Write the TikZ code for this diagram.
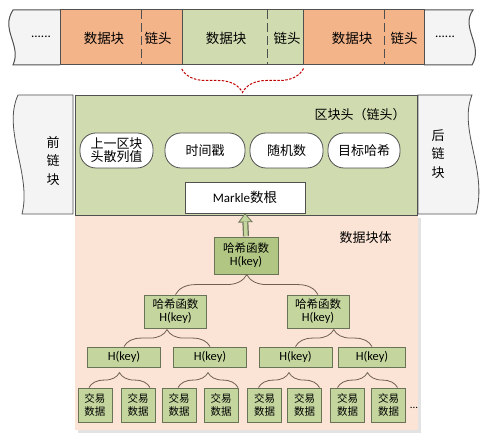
\documentclass[tikz,border=0pt]{standalone}
\usepackage{fontspec}
\setmainfont{Carlito}
\newfontfamily\cjk{Noto Sans CJK SC}
\usetikzlibrary{arrows.meta,positioning,calc,decorations.pathreplacing}
\definecolor{blk-orange}{RGB}{244,180,138}
\definecolor{blk-green}{RGB}{208,220,176}
\definecolor{hash-green}{RGB}{196,214,158}
\definecolor{root-green}{RGB}{176,198,130}
\definecolor{body-pink}{RGB}{251,228,214}
\definecolor{edge-gray}{RGB}{80,80,80}
\definecolor{box-edge}{RGB}{105,115,85}
\definecolor{side-gray}{RGB}{244,244,244}
\definecolor{brace-brown}{RGB}{110,95,80}
\definecolor{link-red}{RGB}{192,0,0}

\begin{document}
\begin{tikzpicture}[x=1pt, y=-1pt,
    cell/.style={rectangle, draw=edge-gray, line width=1pt, minimum height=55pt, inner sep=0pt},
    cntext/.style={font=\cjk\fontsize{13.5}{18}\selectfont, inner sep=0pt, align=center},
    bubble/.style={rectangle, draw=edge-gray, fill=white, line width=0.8pt, rounded corners=16pt, minimum height=35pt, inner sep=0pt, align=center, font=\cjk\fontsize{13}{13}\selectfont},
    hashbox/.style={rectangle, draw=box-edge, fill=hash-green, line width=0.8pt, inner sep=0pt, align=center, font=\fontsize{12.5}{13}\selectfont},
    leafbox/.style={hashbox, minimum width=34pt, minimum height=34pt, font=\cjk\fontsize{10.5}{13}\selectfont},
    divider/.style={edge-gray, line width=1pt, dash pattern=on 9pt off 4pt},
    treebrace/.style={draw=brace-brown, line width=0.8pt, decorate, decoration={brace, amplitude=#1}},
    treebrace/.default=15pt,
    linkbrace/.style={draw=link-red, line width=1pt, dash pattern=on 2.5pt off 1.5pt, decorate, decoration={brace, amplitude=24pt}}]

    \useasboundingbox (0,0) rectangle (491,435);
    \fill[white] (0,0) rectangle (491,435);

    % Top: chain of blocks
    \filldraw[fill=side-gray, draw=edge-gray, line width=1pt] (60,10) -- (13,10) .. controls (0,30) and (22,45) .. (13,65) -- (60,65);
    \filldraw[fill=side-gray, draw=edge-gray, line width=1pt] (424,10) -- (473,10) .. controls (460,28) and (484,45) .. (472,65) -- (424,65);
    \node[cell, fill=blk-orange, minimum width=122pt] (prev) at (121,37.5) {};
    \node[cell, fill=blk-green, minimum width=121pt] (cur) at (242.5,37.5) {};
    \node[cell, fill=blk-orange, minimum width=121pt] (next) at (363.5,37.5) {};
    \draw[divider] (141,10) -- (141,65);
    \draw[divider] (267,10) -- (267,65);
    \draw[divider] (384,10) -- (384,65);

    \node[inner sep=0pt, font=\fontsize{13}{13}\selectfont] (dotsL) at (41,37) {......};
    \node[cntext] (data1) at (104,38) {数据块};
    \node[cntext] (head1) at (158,38) {链头};
    \node[cntext] (data2) at (226,38) {数据块};
    \node[cntext] (head2) at (287,38) {链头};
    \node[cntext] (data3) at (352,38) {数据块};
    \node[cntext] (head3) at (404,38) {链头};
    \node[inner sep=0pt, font=\fontsize{13}{13}\selectfont] (dotsR) at (445,37) {......};

    % Zoom on the current block
    \draw[linkbrace] ([yshift=-3pt]cur.south east) -- ([yshift=-3pt]cur.south west);

    % Neighbour blocks
    \filldraw[fill=side-gray, draw=edge-gray, line width=0.8pt] (73,95) -- (18,95) .. controls (2,130) and (32,175) .. (22,214) -- (73,214) -- cycle;
    \filldraw[fill=side-gray, draw=edge-gray, line width=0.8pt] (418,95) -- (472,95) .. controls (458,130) and (488,170) .. (476,214) -- (418,214) -- cycle;
    \node[cntext, font=\cjk\fontsize{13}{18.5}\selectfont] (prevblk) at (53,161) {前\\链\\块};
    \node[cntext, font=\cjk\fontsize{13}{18.5}\selectfont] (nextblk) at (438,154) {后\\链\\块};

    % Block body and block header
    \fill[gray!22] (78,218) rectangle (421,433);
    \fill[body-pink] (75,215) rectangle (418,430);
    \filldraw[fill=blk-green, draw=edge-gray, line width=0.8pt] (75,95) rectangle (417,215);
    \node[cntext, font=\cjk\fontsize{13}{13}\selectfont] (hdrtitle) at (360,115) {区块头（链头）};
    \node[cntext, font=\cjk\fontsize{13}{13}\selectfont] (bodytitle) at (365.5,238) {数据块体};

    \node[bubble, minimum width=73pt] (prevhash) at (116.5,150.5) {上一区块\\头散列值};
    \node[bubble, minimum width=80pt] (stamp) at (205,150.5) {时间戳};
    \node[bubble, minimum width=73pt] (nonce) at (286.5,150.5) {随机数};
    \node[bubble, minimum width=72pt] (target) at (364,150.5) {目标哈希};
    \node[rectangle, draw=edge-gray, fill=white, line width=0.8pt, minimum width=120pt, minimum height=31pt, inner sep=0pt, font=\fontsize{13}{14}\selectfont] (merkle) at (245,197.5) {Markle{\cjk\fontsize{13.5}{14}\selectfont 数根}};

    % Hash tree
    \node[hashbox, fill=root-green, minimum width=64pt, minimum height=37pt] (root) at (246,255.5) {{\cjk\fontsize{11.5}{13}\selectfont 哈希函数}\\H(key)};
    \node[hashbox, minimum width=62pt, minimum height=33pt] (h2a) at (175.5,311.5) {{\cjk\fontsize{11.5}{13}\selectfont 哈希函数}\\H(key)};
    \node[hashbox, minimum width=62pt, minimum height=33pt] (h2b) at (318,311.5) {{\cjk\fontsize{11.5}{13}\selectfont 哈希函数}\\H(key)};

    \node[hashbox, minimum width=73pt, minimum height=20pt] (h3a) at (124,357) {H(key)};
    \node[hashbox, minimum width=73pt, minimum height=20pt] (h3b) at (210,357) {H(key)};
    \node[hashbox, minimum width=73pt, minimum height=20pt] (h3c) at (295.5,357) {H(key)};
    \node[hashbox, minimum width=67pt, minimum height=20pt] (h3d) at (372,357) {H(key)};

    \node[leafbox] (tx1) at (95,405) {交易\\数据};
    \node[leafbox] (tx2) at (138,405) {交易\\数据};
    \node[leafbox] (tx3) at (179,405) {交易\\数据};
    \node[leafbox] (tx4) at (221,405) {交易\\数据};
    \node[leafbox] (tx5) at (264.5,405) {交易\\数据};
    \node[leafbox] (tx6) at (304.5,405) {交易\\数据};
    \node[leafbox] (tx7) at (347.5,405) {交易\\数据};
    \node[leafbox] (tx8) at (388.5,405) {交易\\数据};
    \node[inner sep=0pt, font=\fontsize{11}{11}\selectfont] (more) at (414,408) {...};

    % Root hash goes up into the header
    \draw[-{Triangle[length=9pt,width=15pt,line width=0pt]}, line width=6pt, box-edge, shorten <=0.4pt] (root.north) -- (merkle.south);
    \draw[-{Triangle[length=6.8pt,width=11pt,line width=0pt]}, line width=3.6pt, hash-green, shorten >=1.3pt, shorten <=0.4pt] (root.north) -- (merkle.south);

    % Braces between levels
    \draw[treebrace=20pt] (h2a.north) -- (h2b.north);
    \draw[treebrace=17pt] (h3a.north) -- (h3b.north);
    \draw[treebrace=17pt] (h3c.north) -- (h3d.north);
    \draw[treebrace] ([xshift=-6pt]tx1.north) -- ([xshift=12pt]tx2.north);
    \draw[treebrace] ([xshift=-1pt]tx3.north) -- ([xshift=17pt]tx4.north);
    \draw[treebrace] ([xshift=-6pt]tx5.north) -- ([xshift=15pt]tx6.north);
    \draw[treebrace] ([xshift=-10pt]tx7.north) -- ([xshift=9pt]tx8.north);
\end{tikzpicture}
\end{document}
